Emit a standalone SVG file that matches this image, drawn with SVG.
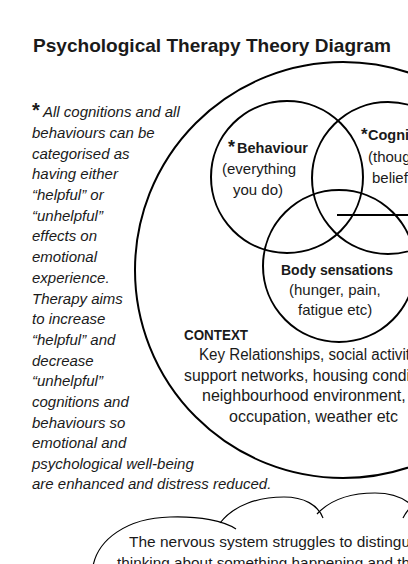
<svg xmlns="http://www.w3.org/2000/svg" width="408" height="564" viewBox="0 0 408 564">
<style>
.t{font-family:"Liberation Sans",Arial,sans-serif;fill:#1a1a1a}
.it{font-style:italic;font-size:15px}
.b{font-weight:bold}
.r15{font-size:15px}
.r16{font-size:16px}
.ring{fill:none;stroke:#000;stroke-width:2}
.cloud{fill:none;stroke:#000;stroke-width:1.2}
</style>
<rect width="408" height="564" fill="#fff"/>
<g id="title">
<text class="t b" x="33" y="52" font-size="19" textLength="358" lengthAdjust="spacingAndGlyphs">Psychological Therapy Theory Diagram</text>
</g>
<g id="note">
<text class="t b" x="32" y="117" font-size="20">*</text>
<text class="t it" x="43" y="117">All cognitions and all</text>
<text class="t it" x="32" y="138">behaviours can be</text>
<text class="t it" x="32" y="158.5">categorised as</text>
<text class="t it" x="32" y="179">having either</text>
<text class="t it" x="32" y="200">“helpful” or</text>
<text class="t it" x="32" y="220.5">“unhelpful”</text>
<text class="t it" x="32" y="241">effects on</text>
<text class="t it" x="32" y="262">emotional</text>
<text class="t it" x="32" y="282.5">experience.</text>
<text class="t it" x="32" y="303.5">Therapy aims</text>
<text class="t it" x="32" y="324">to increase</text>
<text class="t it" x="32" y="345">“helpful” and</text>
<text class="t it" x="32" y="365.5">decrease</text>
<text class="t it" x="32" y="386">“unhelpful”</text>
<text class="t it" x="32" y="407">cognitions and</text>
<text class="t it" x="32" y="427.5">behaviours so</text>
<text class="t it" x="32" y="448">emotional and</text>
<text class="t it" x="32" y="469">psychological well-being</text>
<text class="t it" x="32" y="489">are enhanced and distress reduced.</text>
</g>
<g id="context">
<circle class="ring" cx="343" cy="270" r="208"/>
<text class="t b" x="184" y="340" font-size="14" textLength="64" lengthAdjust="spacingAndGlyphs">CONTEXT</text>
<text class="t r16" x="199" y="360" textLength="211" lengthAdjust="spacingAndGlyphs">Key Relationships, social activit</text>
<text class="t r16" x="184" y="380.5" textLength="226" lengthAdjust="spacingAndGlyphs">support networks, housing condi</text>
<text class="t r16" x="202" y="401">neighbourhood environment,</text>
<text class="t r16" x="229" y="422">occupation, weather etc</text>
</g>
<g id="behaviour">
<circle class="ring" cx="287" cy="177" r="76"/>
<text class="t b" x="228" y="153" font-size="18">*</text>
<text class="t b" x="237" y="153" font-size="14.5">Behaviour</text>
<text class="t r15" x="222" y="174">(everything</text>
<text class="t r15" x="233" y="195">you do)</text>
</g>
<g id="cognition">
<circle class="ring" cx="388" cy="178" r="76"/>
<text class="t b" x="361" y="140" font-size="17">*</text>
<text class="t b" x="368" y="140" font-size="14.5">Cogni</text>
<text class="t r15" x="368" y="162">(thoug</text>
<text class="t r15" x="372" y="183">belief</text>
</g>
<g id="body">
<circle class="ring" cx="339" cy="266" r="76"/>
<text class="t b" x="281" y="275" font-size="14">Body sensations</text>
<text class="t r15" x="289" y="295">(hunger, pain,</text>
<text class="t r15" x="298" y="314.5">fatigue etc)</text>
</g>
<g id="connectors">
<line x1="337" y1="215" x2="408" y2="215" stroke="#000" stroke-width="1.8"/>
</g>
<g id="cloud">
<path class="cloud" d="M93,566 C98,540 126,518 170,517 C200,516 224,521 236,529"/>
<path class="cloud" d="M220,523 C234,505 258,497 284,497 C304,497 318,505 323,518"/>
<path class="cloud" d="M317,514 C330,500 350,493 375,493 C392,493 402,497 410,504"/>
<path class="cloud" d="M403,518 C405,514 407,511 410,508"/>
<text class="t" x="129" y="547" font-size="15.5" textLength="281" lengthAdjust="spacingAndGlyphs">The nervous system struggles to distingu</text>
<text class="t" x="117" y="568" font-size="15.5" textLength="293" lengthAdjust="spacingAndGlyphs">thinking about something happening and th</text>
</g>
</svg>
